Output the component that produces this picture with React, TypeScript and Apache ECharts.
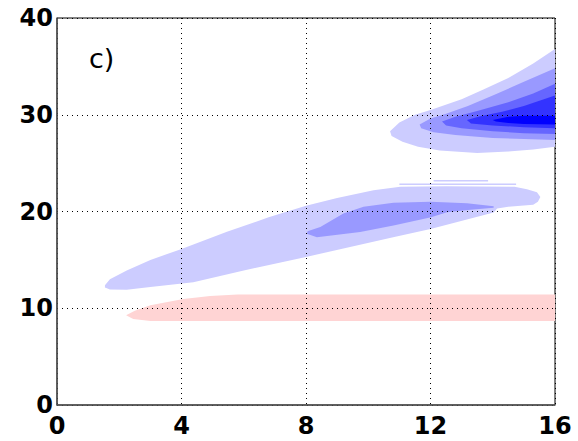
import React, { useEffect, useRef } from "react";
import * as echarts from "echarts";

// Axis ticks
const xTicks = [0, 4, 8, 12, 16];
const yTicks = [0, 10, 20, 30, 40];

// Contour outlines [x, y] in data units
const pinkBand: number[][] = [
  [2.22, 9.28], [2.5, 9.75], [3.0, 10.3], [4.06, 10.95], [4.92, 11.27], [5.8, 11.43],
  [16, 11.43], [16, 8.69], [3.0, 8.69], [2.45, 8.9],
];

const midLevel1: number[][] = [
  [1.54, 12.37], [1.7, 13.0], [2.24, 13.9], [3.0, 15.0], [3.98, 16.1], [5.46, 17.9],
  [6.8, 19.4], [8.0, 20.6], [9.0, 21.4], [10.17, 22.2], [11.03, 22.55],
  [12.5, 22.6], [14.7, 22.55], [15.1, 22.3], [15.42, 22.0], [15.53, 21.5],
  [15.45, 21.0], [15.3, 20.7], [14.5, 20.5], [14.14, 20.3], [14.03, 19.9],
  [12.0, 18.2], [10.8, 17.35], [8.0, 15.3], [6.0, 13.9], [4.38, 12.7],
  [3.0, 12.2], [2.24, 11.9], [1.7, 11.95], [1.54, 12.15],
];

// thin streaks above the middle band
const midStreakA: number[][] = [[11.0, 22.75], [14.75, 22.75], [14.75, 22.9], [11.0, 22.9]];
const midStreakB: number[][] = [[12.1, 23.1], [13.85, 23.1], [13.85, 23.25], [12.1, 23.25]];

const midLevel2: number[][] = [
  [8.03, 17.7], [8.35, 17.35], [9.74, 17.87], [10.81, 18.56], [12.02, 19.4],
  [12.53, 19.93], [13.2, 20.15], [14.03, 20.4], [14.03, 20.55], [13.17, 20.85],
  [12.0, 21.0], [10.81, 20.9], [9.85, 20.5], [9.2, 19.8], [8.46, 18.4], [8.05, 17.95],
];

const topLevel1: number[][] = [
  [10.7, 28.3], [11.0, 29.2], [11.5, 30.0], [12.0, 30.5], [13.0, 31.6], [13.7, 32.6],
  [14.5, 33.8], [15.3, 35.3], [16, 36.8], [16, 26.7], [15.3, 26.4], [14.5, 26.2],
  [13.5, 26.05], [12.3, 26.3], [11.6, 26.7], [11.1, 27.2], [10.75, 27.8],
];

const topLevel2: number[][] = [
  [11.65, 29.0], [12.0, 29.6], [12.5, 30.1], [13.2, 30.9], [14.0, 32.0], [15.0, 33.4],
  [16, 34.8], [16, 27.4], [15.0, 27.5], [14.0, 27.6], [12.8, 27.9], [12.1, 28.2], [11.7, 28.6],
];

const topLevel3: number[][] = [
  [12.37, 29.3], [12.8, 29.8], [13.5, 30.4], [14.5, 31.3], [15.3, 32.2], [16, 33.2],
  [16, 28.0], [15.0, 28.1], [14.0, 28.3], [13.0, 28.6], [12.5, 28.9],
];

const topLevel4: number[][] = [
  [13.17, 29.45], [13.6, 29.85], [14.3, 30.3], [15.0, 30.9], [16, 32.0],
  [16, 28.6], [15.0, 28.7], [14.0, 28.9], [13.3, 29.1],
];

const topLevel5: number[][] = [
  [14.0, 29.45], [14.5, 29.8], [15.0, 29.9], [16, 29.9],
  [16, 29.0], [15.0, 29.05], [14.5, 29.15], [14.1, 29.3],
];

const regions: { pts: number[][]; color: string }[] = [
  { pts: pinkBand, color: "#ffd4d4" },
  { pts: midLevel1, color: "#ccccff" },
  { pts: midStreakA, color: "#ccccff" },
  { pts: midStreakB, color: "#ccccff" },
  { pts: midLevel2, color: "#9999ff" },
  { pts: topLevel1, color: "#ccccff" },
  { pts: topLevel2, color: "#9999ff" },
  { pts: topLevel3, color: "#6666ff" },
  { pts: topLevel4, color: "#3333ff" },
  { pts: topLevel5, color: "#0000ff" },
];

export default function App() {
  const ref = useRef<HTMLDivElement>(null);
  useEffect(() => {
    if (!ref.current) return;
    const chart = echarts.init(ref.current, undefined, { renderer: "svg" });
    const labelStyle = {
      color: "#000",
      fontFamily: "DejaVu Sans",
      fontWeight: "bold" as const,
      fontSize: 24,
    };
    const series = regions.map((r) => ({
      type: "custom" as const,
      coordinateSystem: "cartesian2d",
      clip: true,
      silent: true,
      data: [[r.pts[0][0], r.pts[0][1]]],
      renderItem: (_params: any, api: any) => ({
        type: "polygon",
        shape: { points: r.pts.map((p) => api.coord(p)) },
        style: { fill: r.color, stroke: "none" },
      }),
    }));
    chart.setOption({
      animation: false,
      grid: {
        left: 57,
        right: 23,
        top: 18,
        bottom: 36,
        show: true,
        borderColor: "#000",
        borderWidth: 1,
        backgroundColor: "transparent",
      },
      xAxis: {
        type: "value",
        min: xTicks[0],
        max: xTicks[xTicks.length - 1],
        interval: 4,
        z: 10,
        axisLine: { show: true, lineStyle: { color: "#555", width: 1.5 } },
        axisTick: { show: false },
        axisLabel: { ...labelStyle, margin: 9 },
        splitLine: { show: true, lineStyle: { color: "#000", width: 1, type: [1, 4] } },
      },
      yAxis: {
        type: "value",
        min: yTicks[0],
        max: yTicks[yTicks.length - 1],
        interval: 10,
        z: 10,
        axisLine: { show: true, lineStyle: { color: "#555", width: 1.5 } },
        axisTick: { show: false },
        axisLabel: { ...labelStyle, margin: 4 },
        splitLine: { show: true, lineStyle: { color: "#000", width: 1, type: [1, 4] } },
      },
      graphic: [
        {
          type: "text",
          left: 89,
          top: 45,
          style: { text: "c)", fontFamily: "DejaVu Sans", fontSize: 27, fill: "#000" },
        },
      ],
      series,
    });
    return () => chart.dispose();
  }, []);
  return (
    <div
      ref={ref}
      style={{ position: "absolute", left: 0, top: 0, width: 578, height: 441 }}
    />
  );
}
